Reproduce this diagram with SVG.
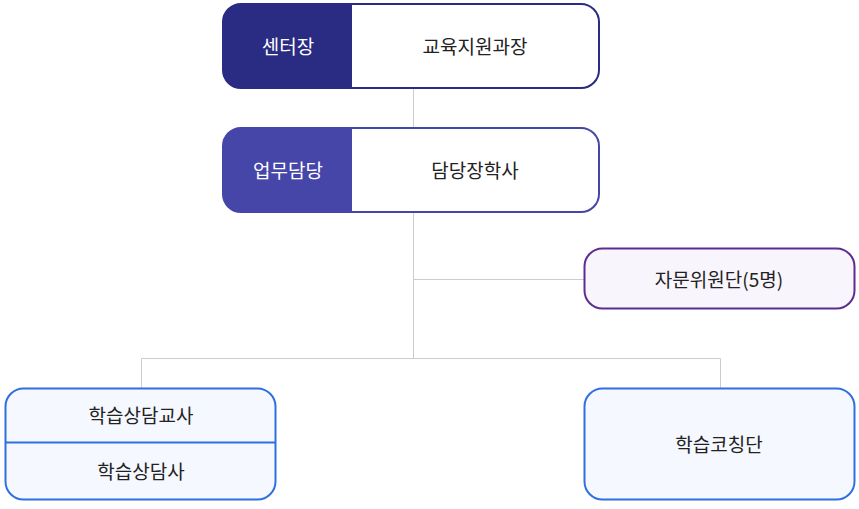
<svg xmlns="http://www.w3.org/2000/svg" width="859" height="509" viewBox="0 0 859 509">
<style>
text{font-family:"Noto Sans CJK KR","Noto Sans",sans-serif;font-size:19px;fill:#222;text-anchor:middle;dominant-baseline:central}
.w{fill:#fff}
.ln{stroke:#cccccc;stroke-width:1;fill:none}
.blue{fill:#f5f8fe;stroke:#2f6fe0;stroke-width:2}
</style>
<rect width="859" height="509" fill="#fff"/>
<g id="connectors">
<path class="ln" d="M413.5 89V127M413.5 213V358.5M413.5 279.5H584M141.5 358.5H720.5M141.5 358.5V388M720.5 358.5V388"/>
</g>
<g id="n1">
<clipPath id="c1"><rect x="223" y="4" width="376" height="84" rx="18"/></clipPath>
<rect x="223" y="4" width="376" height="84" rx="18" fill="#fff"/>
<rect x="223" y="4" width="129" height="84" fill="#2a2b82" clip-path="url(#c1)"/>
<rect x="223" y="4" width="376" height="84" rx="18" fill="none" stroke="#2a2b82" stroke-width="2"/>
<text class="w" x="288" y="45">센터장</text>
<text x="475" y="45">교육지원과장</text>
</g>
<g id="n2">
<clipPath id="c2"><rect x="223" y="128" width="376" height="84" rx="18"/></clipPath>
<rect x="223" y="128" width="376" height="84" rx="18" fill="#fff"/>
<rect x="223" y="128" width="129" height="84" fill="#4646a9" clip-path="url(#c2)"/>
<rect x="223" y="128" width="376" height="84" rx="18" fill="none" stroke="#4646a9" stroke-width="2"/>
<text class="w" x="288" y="169">업무담당</text>
<text x="475" y="169">담당장학사</text>
</g>
<g id="n3">
<rect x="584.5" y="248.5" width="270" height="60" rx="18" fill="#f8f5fd" stroke="#5b2d91" stroke-width="2"/>
<text x="719" y="278">자문위원단(5명)</text>
</g>
<g id="n4">
<rect class="blue" x="5.5" y="388.5" width="270" height="111" rx="18"/>
<line x1="5.5" y1="442.5" x2="275.5" y2="442.5" stroke="#2f6fe0" stroke-width="2"/>
<text x="141" y="414">학습상담교사</text>
<text x="141" y="470">학습상담사</text>
</g>
<g id="n5">
<rect class="blue" x="584.5" y="388.5" width="270" height="111" rx="18"/>
<text x="719" y="443">학습코칭단</text>
</g>
</svg>
